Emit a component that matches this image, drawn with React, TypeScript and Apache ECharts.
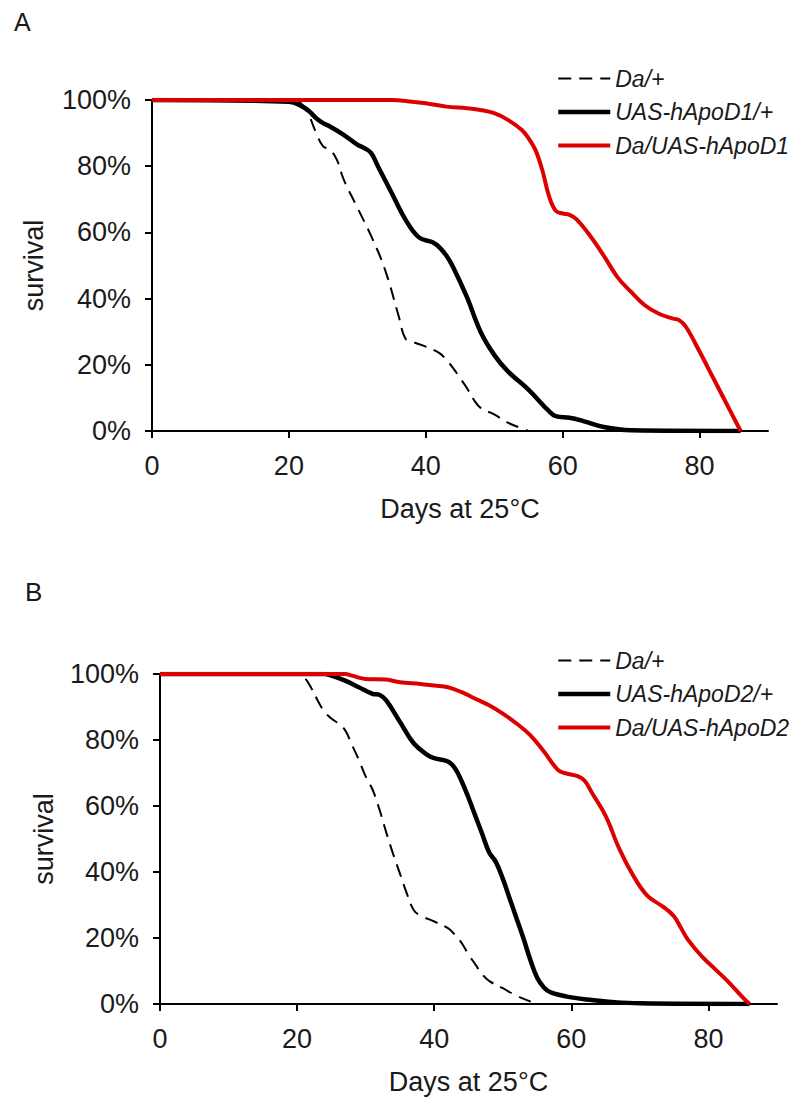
import React, { useEffect, useRef } from "react";
import * as echarts from "echarts";

// Panel A
const daysA_da = [0, 21, 22, 23, 24, 25, 26, 27, 28, 30, 32, 34, 36, 37, 38, 40, 42, 43, 44, 45, 46, 47, 48, 50, 52, 54, 55];
const survA_da = [100, 99.7, 98.5, 95, 90, 86, 85, 82, 76, 67.5, 59, 49, 35, 28, 27, 25.5, 23.5, 21.5, 19, 16, 13, 9.5, 7, 5, 2.5, 0.8, 0];
const daysA_uas = [0, 20, 22, 23, 24, 25, 26, 28, 30, 31, 32, 33, 35, 37, 39, 41, 42, 43, 44, 46, 48, 50, 52, 55, 58, 59, 61, 63, 66, 70, 86];
const survA_uas = [100, 99.5, 98, 96.5, 94.5, 93, 92, 89.5, 86.5, 85.5, 84, 80, 72, 64, 58.5, 57, 55.5, 53, 49.5, 40.5, 30, 23, 18, 12.5, 6, 4.5, 4, 3, 1.2, 0.2, 0];
const daysA_red = [0, 35, 38, 40, 43, 46, 48, 50, 52, 54, 55, 56, 57, 58, 59, 60, 61, 62, 64, 66, 68, 70, 72, 74, 76, 77, 78, 80, 82, 84, 86];
const survA_red = [100, 100, 99.5, 99, 98, 97.5, 97, 96, 94, 91, 88.5, 85, 79, 71, 66.5, 65.7, 65.3, 64, 59, 53, 46.5, 42, 38, 35.5, 34, 33.5, 31.5, 24, 16, 8, 0];

// Panel B
const daysB_da = [0, 20, 21, 22, 23, 24, 25, 26, 27, 28, 29, 30, 31, 32, 33, 34, 35, 36, 37, 38, 40, 42, 43, 44, 45, 46, 47, 48, 50, 52, 54, 55];
const survB_da = [100, 100, 99, 96, 92, 88.5, 86.5, 85, 83, 78.5, 74, 69, 65, 59, 52, 45.5, 39.5, 33.5, 28.5, 26.8, 25, 23, 21, 18.5, 15, 12, 9, 7, 4.8, 2.5, 0.8, 0];
const daysB_uas = [0, 24, 25, 27, 29, 31, 32, 33, 35, 37, 39, 40, 42, 43, 44, 45, 46, 47, 48, 49, 50, 51, 52, 53, 54, 55, 56, 57, 60, 63, 66, 70, 86];
const survB_uas = [100, 100, 99.5, 98, 96, 94, 93.7, 92, 85.5, 79, 75.5, 74.5, 73.5, 71.5, 67.5, 62.5, 57, 51.5, 46, 43, 38, 32, 26, 20, 13.5, 8, 5, 3.5, 2, 1.2, 0.6, 0.2, 0];
const daysB_red = [0, 27, 28, 30, 33, 35, 38, 40, 42, 44, 46, 48, 50, 52, 54, 56, 58, 59, 61, 62, 63, 65, 67, 69, 71, 73, 74, 75, 76, 77, 79, 81, 83, 85, 86];
const survB_red = [100, 100, 99.5, 98.5, 98.3, 97.5, 97, 96.5, 96, 94.5, 92.5, 90.5, 88, 85, 81.5, 76.5, 71, 70, 69, 67.5, 64, 57, 47, 39, 33, 30, 28.5, 26.5, 23, 19.5, 14.5, 10.5, 6.5, 2, 0];

const xTicks = [0, 20, 40, 60, 80];
const legendA = ["Da/+", "UAS-hApoD1/+", "Da/UAS-hApoD1"];
const legendB = ["Da/+", "UAS-hApoD2/+", "Da/UAS-hApoD2"];
const panelLabels = ["A", "B"];

const FONT = "'Liberation Sans', Arial, Helvetica, sans-serif";
const RED = "#dd0000";
const TXT = "#1a1a1a";

const zip = (d: number[], s: number[]) => d.map((x, i) => [x, s[i]]);

const styleOf = (kind: string) =>
  kind === "da"
    ? { color: "#000", width: 2, type: [13, 8] }
    : kind === "uas"
    ? { color: "#000", width: 4.5, type: "solid" }
    : { color: RED, width: 4, type: "solid" };

export default function App() {
  const ref = useRef<HTMLDivElement>(null);
  useEffect(() => {
    if (!ref.current) return;
    const chart = echarts.init(ref.current, undefined, { renderer: "svg" });

    const grids = [
      { left: 152, top: 100, width: 616, height: 331 },
      { left: 160, top: 674, width: 617, height: 330 },
    ];
    const mkX = (gi: number) => ({
      type: "value",
      gridIndex: gi,
      min: 0,
      max: 90,
      interval: 20,
      name: "Days at 25°C",
      nameLocation: "middle",
      nameGap: 64,
      nameTextStyle: { fontSize: 27, color: TXT, fontFamily: FONT },
      splitLine: { show: false },
      axisLine: { lineStyle: { color: "#000", width: 2 } },
      axisTick: { show: true, length: 7, lineStyle: { color: "#000", width: 2 }, customValues: xTicks },
      axisLabel: { fontSize: 27, color: TXT, fontFamily: FONT, margin: 21, customValues: xTicks },
    });
    const mkY = (gi: number, gap: number) => ({
      type: "value",
      gridIndex: gi,
      min: 0,
      max: 100,
      interval: 20,
      name: "survival",
      nameLocation: "middle",
      nameGap: gap,
      nameRotate: 90,
      nameTextStyle: { fontSize: 27, color: TXT, fontFamily: FONT },
      splitLine: { show: false },
      axisLine: { show: true, lineStyle: { color: "#000", width: 2 } },
      axisTick: { show: true, length: 7, lineStyle: { color: "#000", width: 2 } },
      axisLabel: { fontSize: 27, color: TXT, fontFamily: FONT, margin: 21, formatter: "{value}%" },
    });
    const mkSeries = (name: string, gi: number, d: number[], s: number[], kind: "da" | "uas" | "red") => ({
      type: "line",
      name,
      xAxisIndex: gi,
      yAxisIndex: gi,
      data: zip(d, s),
      smooth: 0.4,
      symbol: "none",
      showSymbol: false,
      z: kind === "red" ? 4 : kind === "uas" ? 3 : 2,
      itemStyle: { color: kind === "red" ? RED : "#000" },
      lineStyle: styleOf(kind),
    });
    const kinds = ["da", "uas", "red"];
    const mkLegend = (names: string[], top: number) => ({
      data: names.map((n, i) => ({ name: n, lineStyle: styleOf(kinds[i]) })),
      orient: "vertical",
      left: 556,
      top,
      padding: 0,
      itemWidth: 52,
      itemHeight: 22,
      itemGap: 10.5,
      selectedMode: false,
      itemStyle: { opacity: 0 },
      textStyle: { fontSize: 23, fontStyle: "italic", color: TXT, fontFamily: FONT, lineHeight: 22 },
    });

    chart.setOption({
      animation: false,
      backgroundColor: "#fff",
      title: [
        { text: panelLabels[0], left: 14, top: 9, padding: 0, textStyle: { fontSize: 25, fontWeight: "normal", color: TXT, fontFamily: FONT } },
        { text: panelLabels[1], left: 25, top: 579, padding: 0, textStyle: { fontSize: 26, fontWeight: "normal", color: TXT, fontFamily: FONT } },
      ],
      grid: grids,
      xAxis: [mkX(0), mkX(1)],
      yAxis: [mkY(0, 105), mkY(1, 103)],
      legend: [mkLegend(legendA, 67), mkLegend(legendB, 649)],
      series: [
        mkSeries(legendA[0], 0, daysA_da, survA_da, "da"),
        mkSeries(legendA[1], 0, daysA_uas, survA_uas, "uas"),
        mkSeries(legendA[2], 0, daysA_red, survA_red, "red"),
        mkSeries(legendB[0], 1, daysB_da, survB_da, "da"),
        mkSeries(legendB[1], 1, daysB_uas, survB_uas, "uas"),
        mkSeries(legendB[2], 1, daysB_red, survB_red, "red"),
      ],
    });
    return () => chart.dispose();
  }, []);
  return (
    <div
      ref={ref}
      style={{ position: "absolute", left: 0, top: 0, width: 796, height: 1099, background: "#fff" }}
    />
  );
}
